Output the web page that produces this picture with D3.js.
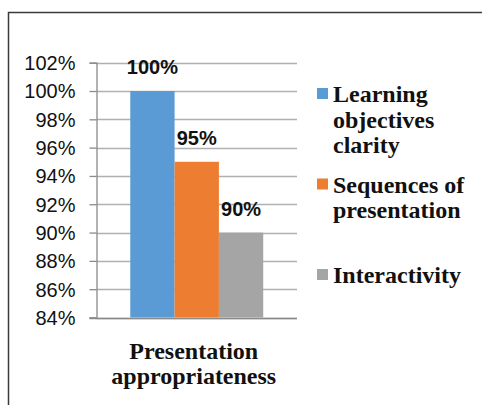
<!DOCTYPE html>
<html>
<head>
<meta charset="utf-8">
<script src="https://cdn.jsdelivr.net/npm/d3@7"></script>
<style>
  html, body { margin: 0; padding: 0; background: #fff; }
  svg { display: block; }
</style>
</head>
<body>
<svg id="chart" width="482" height="405"></svg>
<script>
const categories = ["Presentation appropriateness"];
const seriesNames = ["Learning objectives clarity", "Sequences of presentation", "Interactivity"];
const seriesValues = [1.00, 0.95, 0.90];
const seriesColors = ["#5b9bd5", "#ed7d31", "#a5a5a5"];
const yTicks = [0.84, 0.86, 0.88, 0.90, 0.92, 0.94, 0.96, 0.98, 1.00, 1.02];
const legendLines = [["Learning", "objectives", "clarity"], ["Sequences of", "presentation"], ["Interactivity"]];
const axisTitleLines = ["Presentation", "appropriateness"];

const svg = d3.select("#chart");

// outer frame
svg.append("rect")
  .attr("x", 8.5).attr("y", 12.5)
  .attr("width", 600).attr("height", 600)
  .attr("fill", "none").attr("stroke", "#3a3a3a").attr("stroke-width", 1.5);

const plot = { left: 96.5, right: 297, top: 62.7, bottom: 317.5 };

const y = d3.scaleLinear().domain([0.84, 1.02]).range([plot.bottom, plot.top]);
const x0 = d3.scaleBand().domain(categories).range([plot.left, plot.right]).paddingInner(0).paddingOuter(0.254);
const x1 = d3.scaleBand().domain(seriesNames).range([0, x0.bandwidth()]).padding(0);

// gridlines
svg.append("g").selectAll("line").data(yTicks).join("line")
  .attr("x1", plot.left).attr("x2", plot.right)
  .attr("y1", d => Math.round(y(d)) + 0.5).attr("y2", d => Math.round(y(d)) + 0.5)
  .attr("stroke", "#b0b0b0").attr("stroke-width", 1.3);

// y axis
const yAxis = d3.axisLeft(y).tickValues(yTicks).tickFormat(d3.format(".0%")).tickSize(7).tickPadding(14);
const gy = svg.append("g").attr("transform", `translate(${plot.left},0)`).call(yAxis);
gy.select(".domain").attr("stroke", "#8a8a8a").attr("stroke-width", 1.3);
gy.selectAll(".tick line").attr("stroke", "#8a8a8a").attr("stroke-width", 1.3);
gy.selectAll(".tick text")
  .attr("font-family", "Liberation Sans, Arial, sans-serif")
  .attr("font-size", 20).attr("fill", "#111")
  .attr("dy", "0.34em");
// x axis baseline
svg.append("line")
  .attr("x1", plot.left - 7).attr("x2", plot.right)
  .attr("y1", Math.round(y(0.84)) + 0.5).attr("y2", Math.round(y(0.84)) + 0.5)
  .attr("stroke", "#8a8a8a").attr("stroke-width", 1.3);

// bars
const g = svg.append("g").attr("transform", `translate(${x0(categories[0])},0)`);
g.selectAll("rect").data(seriesValues).join("rect")
  .attr("x", (d, i) => x1(seriesNames[i]))
  .attr("width", x1.bandwidth())
  .attr("y", d => y(d))
  .attr("height", d => y(0.84) - y(d))
  .attr("fill", (d, i) => seriesColors[i]);

// value labels
g.selectAll("text").data(seriesValues).join("text")
  .attr("x", (d, i) => x1(seriesNames[i]) + x1.bandwidth() / 2)
  .attr("y", d => y(d) - 17)
  .attr("text-anchor", "middle")
  .attr("font-family", "Liberation Sans, Arial, sans-serif")
  .attr("font-weight", "bold").attr("font-size", 20).attr("fill", "#111")
  .text(d => d3.format(".0%")(d));

// axis title
svg.append("g").selectAll("text").data(axisTitleLines).join("text")
  .attr("x", x0(categories[0]) + x0.bandwidth() / 2 - 3)
  .attr("y", (d, i) => 359 + i * 24.5)
  .attr("text-anchor", "middle")
  .attr("font-family", "Liberation Serif, Times New Roman, serif")
  .attr("font-weight", "bold").attr("font-size", 24).attr("fill", "#111")
  .text(d => d);

// legend
const legendBaselines = [102, 192.5, 283];
const leg = svg.append("g");
legendLines.forEach((lines, i) => {
  leg.append("rect")
    .attr("x", 317).attr("y", legendBaselines[i] - 14)
    .attr("width", 11).attr("height", 11)
    .attr("fill", seriesColors[i]);
  lines.forEach((t, j) => {
    leg.append("text")
      .attr("x", 333).attr("y", legendBaselines[i] + j * 25.5)
      .attr("font-family", "Liberation Serif, Times New Roman, serif")
      .attr("font-weight", "bold").attr("font-size", 24).attr("fill", "#111")
      .text(t);
  });
});
</script>
</body>
</html>
